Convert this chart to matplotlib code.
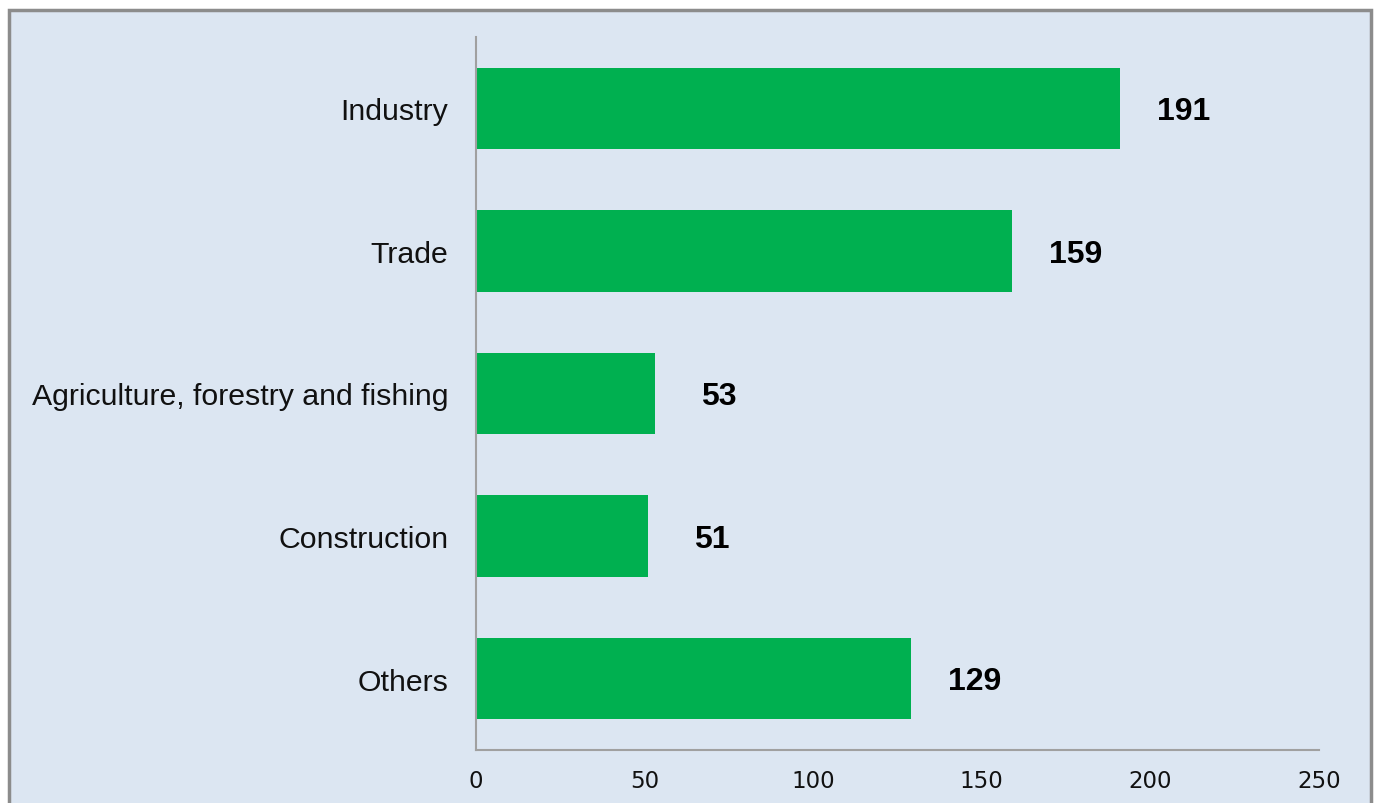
import matplotlib
matplotlib.use('Agg')
import matplotlib.pyplot as plt
from matplotlib.patches import Rectangle

# data
categories = ['Industry', 'Trade', 'Agriculture, forestry and fishing', 'Construction', 'Others']
values = [191, 159, 53, 51, 129]
xticks = [0, 50, 100, 150, 200, 250]

bg = '#DCE6F2'
bar_color = '#00B050'

fig = plt.figure(figsize=(13.75, 8.04), dpi=100, facecolor='white')

# outer panel with grey frame (bottom edge runs off the image)
frame = Rectangle((9 / 1375, -0.02), (1371 - 9) / 1375, 1 - 11 / 804 + 0.02,
                  transform=fig.transFigure, facecolor=bg, edgecolor='#8C8C8C',
                  linewidth=2.5, zorder=-10)
fig.patches.append(frame)

ax = fig.add_axes([476 / 1375, 1 - 751 / 804, (1319 - 476) / 1375, (751 - 38) / 804])
ax.set_facecolor('none')
ax.set_zorder(5)

ypos = list(range(len(categories)))
bars = ax.barh(ypos, values, height=0.57, color=bar_color, zorder=2)

ax.set_xlim(0, 250)
ax.set_ylim(len(categories) - 0.5, -0.5)
ax.set_yticks(ypos)
ax.set_yticklabels(categories, fontsize=21.8, family='Liberation Sans', color='#111111')
ax.set_xticks(xticks)
ax.set_xticklabels([str(t) for t in xticks], fontsize=16.5, family='DejaVu Sans', color='#111111')
ax.tick_params(axis='both', length=0)
ax.tick_params(axis='y', pad=20)
ax.tick_params(axis='x', pad=14)

for s in ['top', 'right']:
    ax.spines[s].set_visible(False)
for s in ['left', 'bottom']:
    ax.spines[s].set_color('#A0A0A0')
    ax.spines[s].set_linewidth(1.5)

# value labels to the right of each bar
for b, v in zip(bars, values):
    ax.annotate(str(v), (b.get_width(), b.get_y() + b.get_height() / 2),
                xytext=(46, -2), textcoords='offset points', ha='center', va='center',
                fontsize=23, fontweight='bold', family='Liberation Sans', color='black')

plt.savefig('out.png', dpi=100, facecolor='white')
